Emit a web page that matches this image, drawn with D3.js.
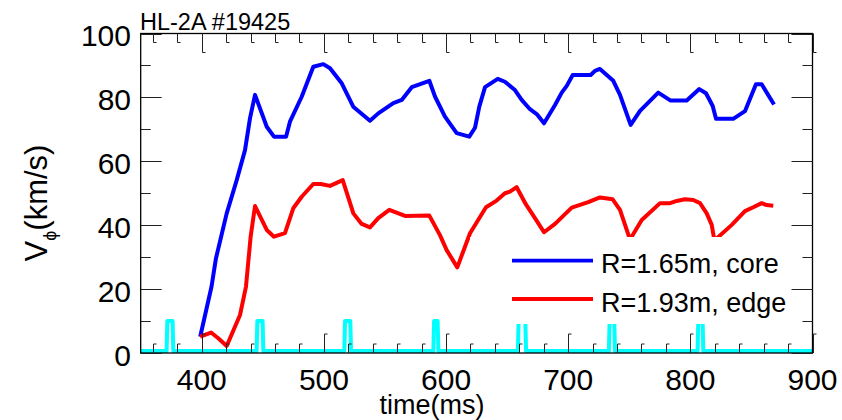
<!DOCTYPE html>
<html>
<head>
<meta charset="utf-8">
<script src="https://cdn.jsdelivr.net/npm/d3@7"></script>
<style>
html,body{margin:0;padding:0;background:#fff;}
svg{display:block;}
text{font-family:"Liberation Sans",Arial,Helvetica,sans-serif;fill:#000;}
</style>
</head>
<body>
<svg id="chart" width="842" height="420"></svg>
<script>
// ---- data (time in ms, velocity in km/s) ----
const blueSeries = [
  [398.7,5.1],[408,20.8],[411.6,29.6],[420.4,43.7],[428.6,54.1],[435.4,63.5],[439.5,73.5],
  [443.6,80.8],[453.2,70.8],[459.1,67.7],[469,67.7],[472.2,72.4],[481.8,80.2],[491.3,89.6],
  [499.5,90.4],[505,89.1],[514.6,84.4],[524,77.1],[537.7,72.7],[544.5,75],[556.8,78.2],
  [563.7,79.2],[571.9,83.2],[586.3,85.2],[591,80.2],[599.1,74],[608.7,68.8],[619,67.7],
  [623.7,70.5],[627.2,77.1],[631.9,83.2],[642.3,85.8],[648.2,84.9],[656.4,82.3],[661.9,79.2],
  [668.7,76.3],[674.2,74.8],[680.2,71.9],[689.2,77.6],[694.7,81.5],[698.8,83.6],[703.7,87],
  [718.4,87],[721.9,88.3],[726,88.9],[736.9,85.2],[742.4,80.8],[751.1,71.4],[758.8,75.8],
  [773.7,81.5],[783.9,79],[797,79],[807.3,82.6],[812.8,81.3],[818.3,77.3],[821,73.3],
  [835.1,73.3],[844.7,75.7],[853.7,84.1],[858.4,84.1],[868.5,77.8]
];
const redSeries = [
  [398.7,5.1],[407.6,6.4],[413.5,4.6],[420.4,2.2],[431.3,11.9],[436.2,20.8],[440,36.4],
  [443.6,46],[453.2,38.5],[459.1,36.4],[468.1,37.5],[474.9,45.3],[481.8,48.9],[491.3,52.9],
  [497.4,52.9],[505,52.3],[515.4,54.1],[524.1,43.7],[530.9,40.4],[537.7,39.3],[544.5,42.2],
  [553.5,44.8],[566.4,42.9],[586.3,43],[595,36.9],[600.5,32.2],[609.2,26.8],[619.6,37.5],
  [632.7,45.6],[641.4,47.7],[648.2,50],[652.3,50.5],[657.8,51.9],[665.4,46.5],[672.8,42.2],
  [680.2,37.8],[689.2,40.4],[702.9,45.5],[716.4,47.2],[726,48.7],[736.4,48.1],[742.4,44.8],
  [750.6,35.5],[760.2,41.6],[775.2,46.9],[783.4,46.9],[788.8,47.6],[795.6,48.1],[802.4,47.9],
  [807.9,46.9],[813.4,43.7],[817.5,40.1],[819.7,35.2],[833.9,40.1],[844.7,44.4],[851.5,45.6],
  [858.4,46.9],[862.5,46.3],[867.9,46.1]
];
const cyanSeries = [
  [350,0.6],
  [371.2,0.6],[371.8,10],[376.1,10],[376.7,0.6],
  [444.9,0.6],[445.5,10],[449.8,10],[450.4,0.6],
  [516.7,0.6],[517.3,10],[521.6,10],[522.2,0.6],
  [589.6,0.6],[590.2,10],[593.1,10],[593.7,0.6],
  [658.8,0.6],[659.4,10],[664.9,10],[665.5,0.6],
  [733.3,0.6],[733.9,10],[737.7,10],[738.3,0.6],
  [805.9,0.6],[806.5,10],[810,10],[810.6,0.6],
  [900,0.6]
];
const xTickLabels = [400,500,600,700,800,900];
const yTickLabels = [0,20,40,60,80,100];
const xMinorTicks = d3.range(360,901,20);
const yMinorTicks = d3.range(0,101,10);
const legendLabels = ["R=1.65m, core","R=1.93m, edge"];
const seriesColors = ["#0000ff","#ff0000"];
const titleText = "HL-2A #19425";

// ---- drawing ----
const svg = d3.select("#chart");
const x = d3.scaleLinear().domain([350,900]).range([140.7,812.5]);
const y = d3.scaleLinear().domain([0,100]).range([353,33.5]);
const L = x(350), R = x(900), T = y(100), B = y(0);

const line = d3.line().x(d=>x(d[0])).y(d=>y(d[1]));

const gData = svg.append("g");
gData.append("path").datum(blueSeries).attr("d",line)
  .attr("fill","none").attr("stroke",seriesColors[0]).attr("stroke-width",4)
  .attr("stroke-linejoin","round").attr("stroke-linecap","butt");
gData.append("path").datum(redSeries).attr("d",line)
  .attr("fill","none").attr("stroke",seriesColors[1]).attr("stroke-width",4)
  .attr("stroke-linejoin","round").attr("stroke-linecap","butt");

// cyan trace
svg.append("path").datum(cyanSeries).attr("d",line)
  .attr("fill","none").attr("stroke","#00ffff").attr("stroke-width",4)
  .attr("stroke-linejoin","round");
// legend box (white) covers part of the traces
svg.append("rect").attr("x",470).attr("y",237).attr("width",320).attr("height",87).attr("fill","#fff");

// frame
svg.append("rect").attr("x",L).attr("y",T).attr("width",R-L).attr("height",B-T)
  .attr("fill","none").attr("stroke","#000").attr("stroke-width",1.3);

// ticks
const gT = svg.append("g").attr("stroke","#222").attr("stroke-width",1).attr("fill","none");
xMinorTicks.forEach(t=>{
  const len = (t%100===0)?19:9;
  const px = Math.round(x(t))+0.5;
  gT.append("path").attr("d",`M${px},${T}V${T+len}h3`);
  gT.append("path").attr("d",`M${px},${B}V${B-len}h3`);
});
yMinorTicks.forEach(v=>{
  const len = (v%20===0)?21:10;
  const py = Math.round(y(v))+0.5;
  gT.append("path").attr("d",`M${L},${py}H${L+len}`);
  gT.append("path").attr("d",`M${R},${py}H${R-len}`);
});

// tick labels
svg.append("g").selectAll("text").data(xTickLabels).join("text")
  .attr("x",d=>x(d)).attr("y",390).attr("text-anchor","middle")
  .attr("font-size",30).text(d=>d);
svg.append("g").selectAll("text").data(yTickLabels).join("text")
  .attr("x",131).attr("y",d=>y(d)+12.5).attr("text-anchor","end")
  .attr("font-size",30).text(d=>d);

// axis titles
svg.append("text").attr("x",432).attr("y",414).attr("text-anchor","middle")
  .attr("font-size",27).text("time(ms)");
const yt = svg.append("text").attr("transform","translate(47,203) rotate(-90)")
  .attr("text-anchor","middle").attr("font-size",31);
yt.append("tspan").text("V");
yt.append("tspan").attr("font-size",18).attr("dy",9).text("\u03D5");
yt.append("tspan").attr("dy",-9).text("(km/s)");

// title
svg.append("text").attr("x",140).attr("y",30).attr("font-size",23.5).text(titleText);

// legend
const legY = [260.7,299];
legendLabels.forEach((lab,i)=>{
  svg.append("line").attr("x1",512).attr("x2",593).attr("y1",legY[i]).attr("y2",legY[i])
    .attr("stroke",seriesColors[i]).attr("stroke-width",3.8);
  svg.append("text").attr("x",601).attr("y",legY[i]+12.5).attr("font-size",27).text(lab);
});
</script>
</body>
</html>
